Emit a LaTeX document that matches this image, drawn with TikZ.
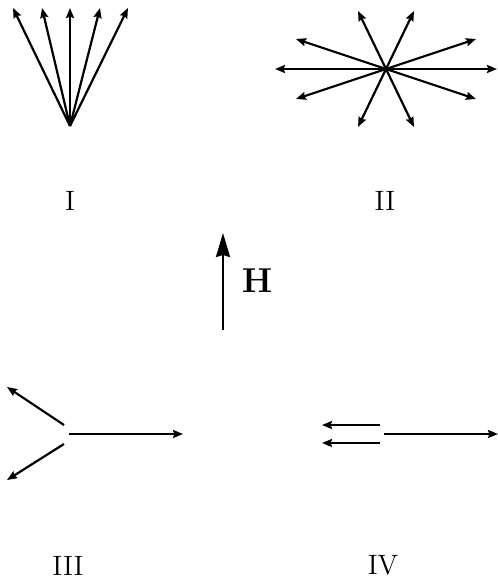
\documentclass[tikz,border=0pt]{standalone}
\usetikzlibrary{arrows.meta,calc}
\tikzset{vec/.style={line width=1.1pt,-{Stealth[length=5pt,width=4pt,inset=0.7pt]}},
  bigvec/.style={line width=1.1pt,-{Stealth[length=12pt,width=7pt,inset=1pt]}},
  numlbl/.style={font=\fontsize{14}{16}\selectfont,inner sep=0pt}}

\begin{document}
\begin{tikzpicture}[x=0.5pt,y=-0.5pt]
\useasboundingbox (0,0) rectangle (498,579);
% I: fan
\coordinate (oI) at (70,126);
\foreach \dx [count=\i] in {-57,-28,0,30,58} {
  \coordinate (tI\i) at ($(oI)+(\dx,-118)$);
  \draw[vec] (oI) -- (tI\i);
}
% II: star
\coordinate (oII) at (386,69);
\foreach \dx/\dy [count=\i] in {111/0,90/-30,28/-58,-28/-58,-90/-30,-111/0,-90/30,-28/58,28/58,90/30} {
  \coordinate (tII\i) at ($(oII)+(\dx,\dy)$);
  \draw[vec] (oII) -- (tII\i);
}
\node[numlbl] (lI) at (70,201) {I};
\node[numlbl] (lII) at (385,201) {II};
% field
\coordinate (hs) at (223,330);
\coordinate (he) at (223,233);
\draw[bigvec] (hs) -- (he);
\node[font=\fontsize{17}{20}\selectfont] (lH) at (257,281) {$\mathbf{H}$};
% III
\coordinate (aIII) at (64,425);
\coordinate (bIII) at (64,444);
\coordinate (cIII) at (69,434);
\coordinate (taIII) at (7,387);
\coordinate (tbIII) at (7,480);
\coordinate (tcIII) at (183,434);
\draw[vec] (aIII) -- (taIII);
\draw[vec] (bIII) -- (tbIII);
\draw[vec] (cIII) -- (tcIII);
% IV
\coordinate (aIV) at (380,425);
\coordinate (bIV) at (380,443);
\coordinate (cIV) at (384,434);
\coordinate (taIV) at (322,425);
\coordinate (tbIV) at (322,443);
\coordinate (tcIV) at (498,434);
\draw[vec] (aIV) -- (taIV);
\draw[vec] (bIV) -- (tbIV);
\draw[vec] (cIV) -- (tcIV);
\node[numlbl] (lIII) at (68,566) {III};
\node[numlbl] (lIV) at (383,565) {IV};
\end{tikzpicture}
\end{document}
